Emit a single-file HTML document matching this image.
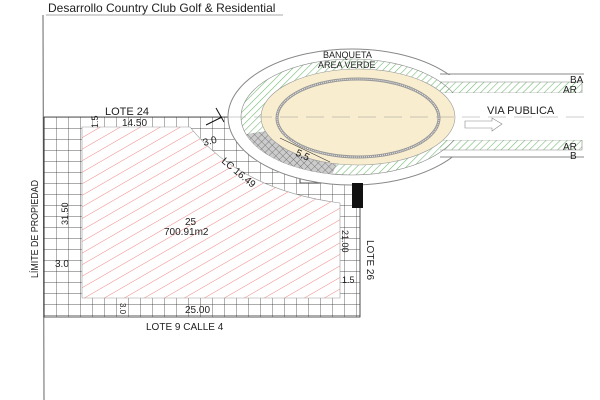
<!DOCTYPE html>
<html><head><style>body{margin:0;background:#fff}svg{display:block}text{font-family:"Liberation Sans",sans-serif;fill:#222}</style></head><body>
<svg width="600" height="400" viewBox="0 0 600 400" xmlns="http://www.w3.org/2000/svg">
<defs>
<pattern id="grid" width="12" height="11" patternUnits="userSpaceOnUse" x="44" y="117"><path d="M0 0H12M0 0V11" stroke="#222" stroke-width="0.7" fill="none"/></pattern>
<pattern id="red" width="10" height="10" patternUnits="userSpaceOnUse" patternTransform="rotate(-30)"><path d="M0 0H10" stroke="#e66" stroke-width="0.8"/></pattern>
<pattern id="grn" width="5" height="5" patternUnits="userSpaceOnUse" patternTransform="rotate(-45)"><path d="M0 0H5" stroke="#7b7" stroke-width="1.2"/></pattern>
<pattern id="gry" width="5" height="5" patternUnits="userSpaceOnUse" patternTransform="rotate(45)"><rect width="5" height="5" fill="#ccc"/><path d="M0 0H5M0 0V5" stroke="#666" stroke-width="0.8"/></pattern>
<clipPath id="outC"><path d="M0 0H600V400H0Z M352 49 a124 68 0 1 0 0.1 0Z" clip-rule="evenodd"/></clipPath>
<clipPath id="grnC"><ellipse cx="352" cy="117" rx="111" ry="58"/></clipPath>
</defs>
<text x="48" y="12" font-size="12">Desarrollo Country Club Golf &amp; Residential</text>
<line x1="46" y1="15" x2="283" y2="15" stroke="#aaa"/>
<line x1="43" y1="15" x2="44" y2="400" stroke="#666"/>
<g clip-path="url(#outC)">
<path d="M44 117H300V183H360V317H44Z" fill="url(#grid)" stroke="#222" stroke-width="0.8"/>
</g>
<path d="M82 127H190 Q240 190 340 203 V298 H82Z" fill="#fff"/>
<path d="M82 127H190 Q240 190 340 203 V298 H82Z" fill="url(#red)" stroke="#999" stroke-width="0.6"/>
<ellipse cx="352" cy="117" rx="124" ry="68" fill="#fff" stroke="#888"/>
<rect x="440" y="75" width="144" height="82" fill="#fff"/>
<path d="M440 74H584 M440 157H584" stroke="#888" fill="none"/>
<rect x="440" y="82" width="142" height="11" fill="url(#grn)"/>
<rect x="440" y="140" width="142" height="10" fill="url(#grn)"/>
<path d="M440 82H582V93H440M440 140H582V150H440" stroke="#888" fill="none" stroke-width="0.6"/>
<ellipse cx="352" cy="117" rx="111" ry="58" fill="url(#grn)" stroke="#888" stroke-width="0.6"/>
<polygon points="358,117 240,135 240,190 325,190" fill="url(#gry)" clip-path="url(#grnC)"/>
<rect x="440" y="93" width="144" height="47" fill="#fff"/>
<ellipse cx="358" cy="117" rx="97" ry="48" fill="#f9edd0" stroke="#999" stroke-width="0.6"/>
<ellipse cx="358" cy="118" rx="81" ry="39" fill="none" stroke="#999" stroke-width="3"/>
<ellipse cx="358" cy="118" rx="81" ry="39" fill="none" stroke="#eee" stroke-width="1" stroke-dasharray="1 1"/>
<line x1="228" y1="117" x2="584" y2="117" stroke="#999" stroke-width="0.6" stroke-dasharray="18 8"/>
<path d="M465 121H492V118L502 124L492 131V128H465Z" fill="#fff" stroke="#888" stroke-width="0.6"/>
<rect x="352" y="183" width="11" height="25" fill="#111"/>
<line x1="280" y1="138" x2="330" y2="162" stroke="#333" stroke-width="0.6"/>
<line x1="206" y1="125" x2="222" y2="117" stroke="#111"/>
<line x1="216" y1="108" x2="224" y2="122" stroke="#111"/>
<text x="323" y="58" font-size="9">BANQUETA</text>
<text x="318" y="68" font-size="9">AREA VERDE</text>
<text x="570" y="83" font-size="10">BA</text>
<text x="563" y="93" font-size="10">AR</text>
<text x="563" y="150" font-size="10">AR</text>
<text x="570" y="159" font-size="10">B</text>
<text x="487" y="114" font-size="11">VIA PUBLICA</text>
<text x="295" y="155" font-size="10" transform="rotate(25 295 155)">5.5</text>
<text x="105" y="115" font-size="11">LOTE 24</text>
<text x="122" y="126" font-size="10">14.50</text>
<text x="98" y="128" font-size="9" transform="rotate(-90 98 128)">1.5</text>
<text x="204" y="146" font-size="10" transform="rotate(-15 204 146)">3.0</text>
<text x="221" y="162" font-size="10" transform="rotate(40 221 162)">LC 16.49</text>
<text x="185" y="225" font-size="10">25</text>
<text x="164" y="235" font-size="10">700.91m2</text>
<text x="38" y="278" font-size="10" transform="rotate(-90 38 278)" textLength="98" lengthAdjust="spacingAndGlyphs">LÍMITE DE PROPIEDAD</text>
<text x="68" y="225" font-size="9" transform="rotate(-90 68 225)">31.50</text>
<text x="55" y="267" font-size="10">3.0</text>
<text x="342" y="230" font-size="9" transform="rotate(90 342 230)">21.00</text>
<text x="367" y="240" font-size="10" transform="rotate(90 367 240)">LOTE 26</text>
<text x="342" y="283" font-size="9">1.5</text>
<text x="185" y="313" font-size="10">25.00</text>
<text x="120" y="303" font-size="8" transform="rotate(90 120 303)">3.0</text>
<text x="146" y="330" font-size="10">LOTE 9 CALLE 4</text>
</svg>
</body></html>
